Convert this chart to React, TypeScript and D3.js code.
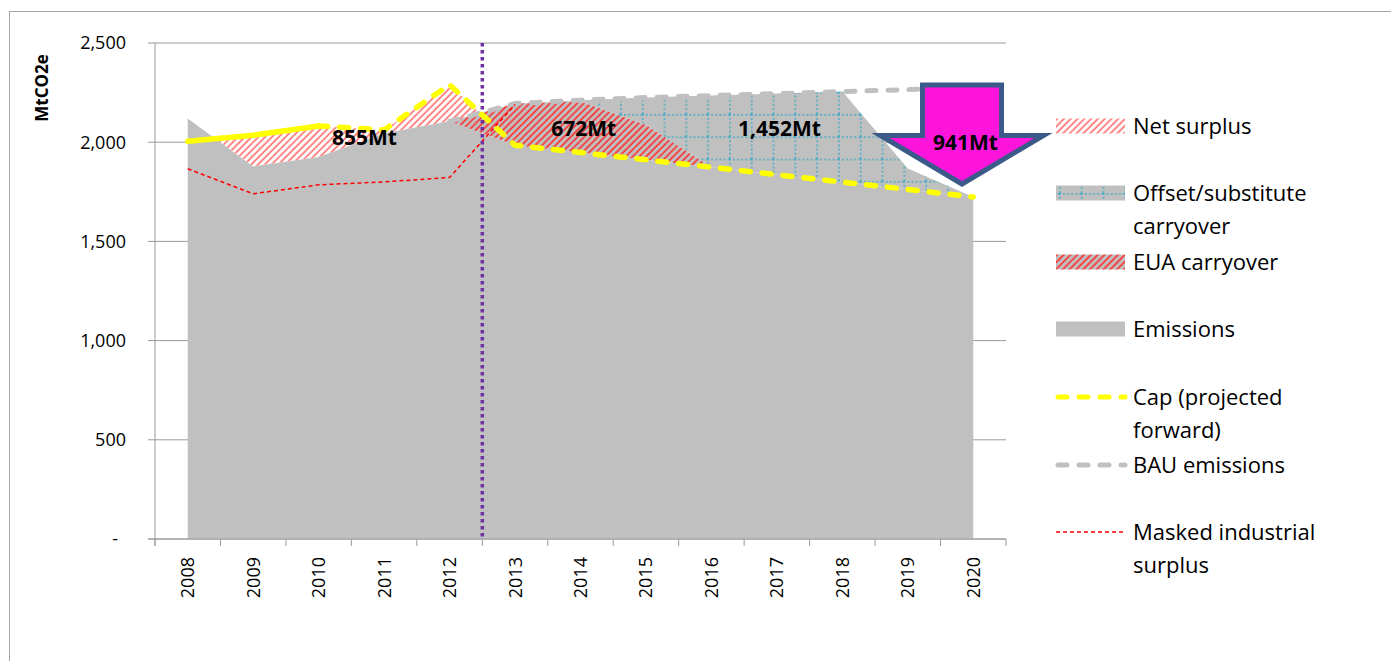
import React from 'react';
import * as d3 from 'd3';

const years = [2008, 2009, 2010, 2011, 2012, 2013, 2014, 2015, 2016, 2017, 2018, 2019, 2020];
const emissions = [2120, 1878, 1925, 2045, 2105, 1985, 1948, 1911, 1874, 1836, 1799, 1762, 1724];
const cap = [2005, 2035, 2082, 2062, 2290, 1985, 1948, 1911, 1874, 1836, 1799, 1762, 1724];
const euaCarryover = [0, 0, 0, 0, 0, 210, 259, 177, 0, 0, 0, 0, 0];
const offsetCarryover = [0, 0, 0, 0, 0, 0, 5, 137, 361, 409, 456, 106, 0];
const bau: (number | null)[] = [null, null, null, null, 2105, 2195, 2212, 2225, 2235, 2245, 2255, 2265, 2275];
const maskedSurplus: (number | null)[] = [1866, 1740, 1785, 1800, 1822, 2190, null, null, null, null, null, null, null];
const yTicks = [0, 500, 1000, 1500, 2000, 2500];
const netSurplusSpan = [0, 1, 2, 3, 4, 5];
const annotations = [
  { text: '855Mt', at: 2.7, value: 2026 },
  { text: '672Mt', at: 6.05, value: 2071 },
  { text: '1,452Mt', at: 9.04, value: 2071 },
];
const arrowLabel = { text: '941Mt', at: 11.88, value: 2000 };

const FONT = "'Open Sans', 'DejaVu Sans', sans-serif";

export default function App() {
  const x = d3.scaleLinear().domain([-0.5, 12.5]).range([155, 1006]);
  const y = d3.scaleLinear().domain([0, 2500]).range([539, 43]);
  const idx = years.map((_, i) => i);
  const stack1 = emissions.map((e, i) => e + euaCarryover[i]);
  const stack2 = stack1.map((s, i) => s + offsetCarryover[i]);

  const areaEm = d3.area<number>().x(i => x(i)).y0(y(0)).y1(i => y(emissions[i]));
  const areaEua = d3.area<number>().x(i => x(i)).y0(i => y(emissions[i])).y1(i => y(stack1[i]));
  const areaOff = d3.area<number>().x(i => x(i)).y0(i => y(stack1[i])).y1(i => y(stack2[i]));
  const areaNs = d3.area<number>().x(i => x(i)).y0(i => y(emissions[i])).y1(i => y(cap[i]));
  const areaBelowCap = d3.area<number>().x(i => x(i)).y0(y(0)).y1(i => y(cap[i]));

  const lineOf = (arr: (number | null)[]) =>
    d3.line<number>().defined(i => arr[i] != null).x(i => x(i)).y(i => y(arr[i] as number))(idx) || '';
  const capSolid = d3.line<number>().x(i => x(i)).y(i => y(cap[i]))([0, 1, 2]) || '';
  const capDashed = d3.line<number>().x(i => x(i)).y(i => y(cap[i]))(idx.slice(2)) || '';

  // arrow (annotation shape)
  const ax = 962;
  const arrowPath = `M${ax - 39.5},85 L${ax + 39.5},85 L${ax + 39.5},135.5 L${ax + 81.5},135.5 L${ax},184 L${ax - 81.5},135.5 L${ax - 39.5},135.5 Z`;

  const lx0 = 1056, lx1 = 1125, tx = 1133;
  const legend = [
    { kind: 'ns', y: 126, lines: ['Net surplus'] },
    { kind: 'off', y: 193, lines: ['Offset/substitute', 'carryover'] },
    { kind: 'eua', y: 262, lines: ['EUA carryover'] },
    { kind: 'em', y: 329, lines: ['Emissions'] },
    { kind: 'cap', y: 397, lines: ['Cap (projected', 'forward)'] },
    { kind: 'bau', y: 465, lines: ['BAU emissions'] },
    { kind: 'mask', y: 532, lines: ['Masked industrial', 'surplus'] },
  ];

  const swatch = (kind: string, cy: number) => {
    if (kind === 'ns') return <rect x={lx0} y={cy - 7.5} width={lx1 - lx0} height={15} fill="url(#nsPat)" />;
    if (kind === 'off') return <rect x={lx0} y={cy - 7.5} width={lx1 - lx0} height={15} fill="url(#offPatL)" />;
    if (kind === 'eua') return <rect x={lx0} y={cy - 7.5} width={lx1 - lx0} height={15} fill="url(#euaPat)" />;
    if (kind === 'em') return <rect x={lx0} y={cy - 7.5} width={lx1 - lx0} height={15} fill="#c0c0c0" />;
    if (kind === 'cap') return <line x1={lx0 + 2} x2={lx1} y1={cy} y2={cy} stroke="#ffff00" strokeWidth={5} strokeLinecap="round" strokeDasharray="9 12" />;
    if (kind === 'bau') return <line x1={lx0 + 2} x2={lx1} y1={cy} y2={cy} stroke="#c0c0c0" strokeWidth={5} strokeLinecap="round" strokeDasharray="9 12" />;
    return <line x1={lx0} x2={lx1 - 2} y1={cy} y2={cy} stroke="#ff0000" strokeWidth={1.5} strokeDasharray="4 3" />;
  };

  return (
    <svg width={1391} height={661} style={{ position: 'absolute', left: 0, top: 0, background: '#fff' }} fontFamily={FONT}>
      <defs>
        <pattern id="nsPat" patternUnits="userSpaceOnUse" width={4.8} height={4.8} patternTransform="rotate(45)">
          <rect width={4.8} height={4.8} fill="#ffffff" />
          <line x1={1.2} x2={1.2} y1={0} y2={4.8} stroke="#ff6a6a" strokeWidth={1.6} />
        </pattern>
        <pattern id="euaPat" patternUnits="userSpaceOnUse" width={4.8} height={4.8} patternTransform="rotate(45)">
          <rect width={4.8} height={4.8} fill="#c0c0c0" />
          <line x1={1.2} x2={1.2} y1={0} y2={4.8} stroke="#ff2a2a" strokeWidth={1.6} />
        </pattern>
        <pattern id="offPat" patternUnits="userSpaceOnUse" x={620} y={114} width={21.8} height={22.3}>
          <rect width={21.8} height={22.3} fill="#c0c0c0" />
          <line x1={0.9} x2={0.9} y1={0} y2={22.3} stroke="#4bacc6" strokeWidth={1.8} strokeDasharray="1.8 2.3" />
          <line x1={0} x2={21.8} y1={0.9} y2={0.9} stroke="#4bacc6" strokeWidth={1.8} strokeDasharray="1.8 2.3" />
        </pattern>
        <pattern id="offPatL" patternUnits="userSpaceOnUse" x={1059} y={193} width={21.8} height={22.3}>
          <rect width={21.8} height={22.3} fill="#c0c0c0" />
          <line x1={0.9} x2={0.9} y1={0} y2={22.3} stroke="#4bacc6" strokeWidth={1.8} strokeDasharray="1.8 2.3" />
          <line x1={0} x2={21.8} y1={0.9} y2={0.9} stroke="#4bacc6" strokeWidth={1.8} strokeDasharray="1.8 2.3" />
        </pattern>
        <clipPath id="belowCap">
          <path d={areaBelowCap(netSurplusSpan) || ''} />
        </clipPath>
      </defs>

      {/* chart border */}
      <rect x={9.5} y={11.5} width={1400} height={700} fill="none" stroke="#a6a6a6" strokeWidth={1} />

      {/* gridlines and y ticks */}
      {yTicks.map(v => (
        <g key={v}>
          <line x1={148} x2={1006} y1={y(v)} y2={y(v)} stroke="#9a9a9a" strokeWidth={1} />
          <text x={v === 0 ? 118 : 126} y={y(v)} dy="0.36em" textAnchor="end" fontSize={18} fill="#000">
            {v === 0 ? '-' : d3.format(',')(v)}
          </text>
        </g>
      ))}

      {/* areas */}
      <path d={areaNs(netSurplusSpan) || ''} fill="url(#nsPat)" clipPath="url(#belowCap)" />
      <path d={areaEm(idx) || ''} fill="#c0c0c0" />
      <path d={areaEua(idx) || ''} fill="url(#euaPat)" />
      <path d={areaOff(idx) || ''} fill="url(#offPat)" />

      {/* lines */}
      <path d={lineOf(bau)} fill="none" stroke="#c0c0c0" strokeWidth={5} strokeLinecap="round" strokeDasharray="9 12" />
      <path d={lineOf(maskedSurplus)} fill="none" stroke="#ff0000" strokeWidth={1.5} strokeDasharray="4 3" />
      <line x1={x(4.5)} x2={x(4.5)} y1={y(2500)} y2={y(0)} stroke="#7030a0" strokeWidth={3.5} strokeDasharray="3.5 3.5" />
      <path d={capSolid} fill="none" stroke="#ffff00" strokeWidth={5.5} strokeLinecap="round" strokeLinejoin="round" />
      <path d={capDashed} fill="none" stroke="#ffff00" strokeWidth={5.5} strokeLinecap="round" strokeLinejoin="round" strokeDasharray="9 12" />

      {/* axes */}
      <line x1={155} x2={155} y1={y(2500)} y2={546} stroke="#9a9a9a" strokeWidth={1} />
      <line x1={148} x2={1006} y1={y(0)} y2={y(0)} stroke="#9a9a9a" strokeWidth={1} />
      {d3.range(14).map(k => (
        <line key={k} x1={x(k - 0.5)} x2={x(k - 0.5)} y1={y(0)} y2={546} stroke="#9a9a9a" strokeWidth={1} />
      ))}
      {years.map((yr, i) => (
        <text key={yr} transform={`translate(${x(i)},557) rotate(-90)`} dy="0.36em" textAnchor="end" fontSize={18} fill="#000">
          {yr}
        </text>
      ))}
      <text transform="translate(42,88) rotate(-90)" dy="0.36em" textAnchor="middle" fontSize={17} fontWeight="bold" fill="#000">
        MtCO2e
      </text>

      {/* annotations */}
      {annotations.map(a => (
        <text key={a.text} x={x(a.at)} y={y(a.value)} dy="0.36em" textAnchor="middle" fontSize={21} fontWeight="bold" fill="#000">
          {a.text}
        </text>
      ))}
      <path d={arrowPath} fill="#ff14dc" stroke="#3b5a8a" strokeWidth={5} strokeLinejoin="miter" />
      <text x={x(arrowLabel.at)} y={y(arrowLabel.value)} dy="0.36em" textAnchor="middle" fontSize={21} fontWeight="bold" fill="#000">
        {arrowLabel.text}
      </text>

      {/* legend */}
      {legend.map(l => (
        <g key={l.kind}>
          {swatch(l.kind, l.y)}
          {l.lines.map((t, j) => (
            <text key={j} x={tx} y={l.y + j * 33.5} dy="0.36em" fontSize={22} fill="#000">
              {t}
            </text>
          ))}
        </g>
      ))}
    </svg>
  );
}
